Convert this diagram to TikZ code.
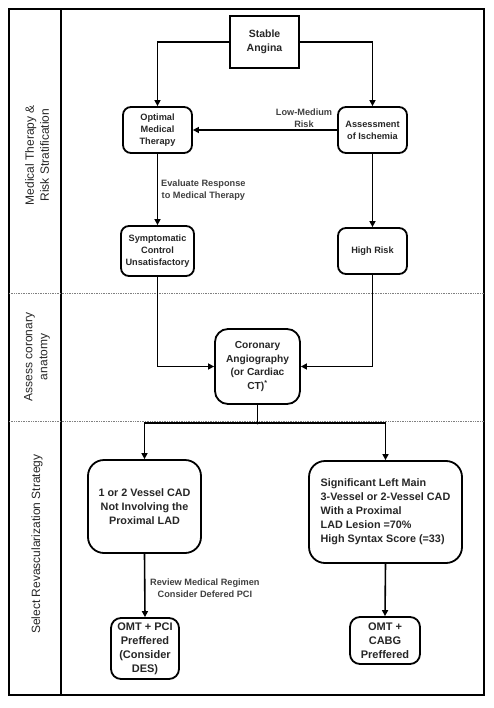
\documentclass[tikz,border=0pt]{standalone}
\usepackage{fontspec}
\setmainfont{Liberation Sans}
\usetikzlibrary{arrows.meta}
\definecolor{txt}{HTML}{262626}
\definecolor{lbl}{HTML}{404040}
\tikzset{
  box/.style={draw=black, line width=1.8pt, rounded corners=8pt, align=center, inner sep=1pt,
              text=txt, font=\bfseries\fontsize{9.2}{12}\selectfont},
  bigbox/.style={box, rounded corners=16pt, font=\bfseries\fontsize{10.8}{14}\selectfont},
  lab/.style={align=center, text=lbl, font=\bfseries\fontsize{9.2}{12}\selectfont, inner sep=0pt},
  side/.style={rotate=90, align=center, text=txt, font=\fontsize{12}{15}\selectfont},
  arr/.style={line width=1.6pt, -{Triangle[length=6pt,width=6pt]}},
  ln/.style={line width=1.6pt},
  frame/.style={line width=1.6pt},
  sep/.style={densely dotted, line width=0.7pt, draw=gray}
}
\begin{document}
\begin{tikzpicture}[x=1pt,y=-1pt]
\useasboundingbox (0,0) rectangle (493,708);
% frame
\draw[frame] (9,9) rectangle (484,695);
\draw[frame] (61,9) -- (61,695);
\draw[sep] (9,293) -- (484,293);
\draw[sep] (9,421) -- (484,421);
% side labels
\node[side] (s1) at (37,155) {Medical Therapy \&\\Risk Stratification};
\node[side] (s2) at (37,357) {Assess coronary\\anatomy};
\node[side] (s3) at (37,544) {Select Revascularization Strategy};
% nodes
\node[box, rounded corners=0pt, minimum width=69pt, minimum height=52pt, font=\bfseries\fontsize{10.5}{14}\selectfont] (stable) at (264.5,42) {Stable\\Angina};
\node[box, minimum width=69pt, minimum height=46pt] (opt) at (157.5,130) {Optimal\\Medical\\Therapy};
\node[box, minimum width=69pt, minimum height=46pt] (assess) at (372.5,130) {Assessment\\of Ischemia};
\node[box, minimum width=73pt, minimum height=50pt] (symp) at (157.5,251) {Symptomatic\\Control\\Unsatisfactory};
\node[box, minimum width=69pt, minimum height=46pt] (high) at (372.5,251) {High Risk};
\node[box, rounded corners=13pt, minimum width=85pt, minimum height=75pt, font=\bfseries\fontsize{10.2}{13.5}\selectfont] (cor) at (257.5,366.5) {Coronary\\Angiography\\(or Cardiac\\CT)\textsuperscript{*}};
\node[bigbox, minimum width=113pt, minimum height=93pt] (vessel) at (144.5,506.5) {1 or 2 Vessel CAD\\Not Involving the\\Proximal LAD};
\node[bigbox, minimum width=153pt, minimum height=102pt, align=left] (sig) at (385.5,512) {Significant Left Main\\3-Vessel or 2-Vessel CAD\\With a Proximal\\LAD Lesion =70\%\\High Syntax Score (=33)};
\node[box, rounded corners=10pt, minimum width=68pt, minimum height=61pt, font=\bfseries\fontsize{11}{14}\selectfont] (pci) at (145,648.5) {OMT + PCI\\Preffered\\(Consider\\DES)};
\node[box, rounded corners=10pt, minimum width=70pt, minimum height=47pt, font=\bfseries\fontsize{11}{14}\selectfont] (cabg) at (385,640.5) {OMT +\\CABG\\Preffered};
% labels
\node[lab] (l1) at (304,118.5) {Low-Medium\\Risk};
\node[lab, anchor=west] (l2) at (161,190) {Evaluate Response\\to Medical Therapy};
\node[lab, anchor=west] (l3) at (150,588.5) {Review Medical Regimen\\Consider Defered PCI};
% connectors
\draw[arr] (stable.west) -| (opt.north);
\draw[arr] (stable.east) -| (assess.north);
\draw[arr] (assess.west) -- (opt.east);
\draw[arr] (opt.south) -- (symp.north);
\draw[arr] (assess.south) -- (high.north);
\draw[arr] (symp.south) |- (cor.west);
\draw[arr] (high.south) |- (cor.east);
\coordinate (j) at (257.5,423);
\draw[ln] (cor.south) -- (j);
\fill (j) circle (1.5pt);
\draw[arr] (j) -| (vessel.north);
\draw[arr] (j) -| (sig.north);
\draw[arr] (vessel.south) -- (pci.north);
\draw[arr] (sig.south) -- (cabg.north);
\end{tikzpicture}
\end{document}
